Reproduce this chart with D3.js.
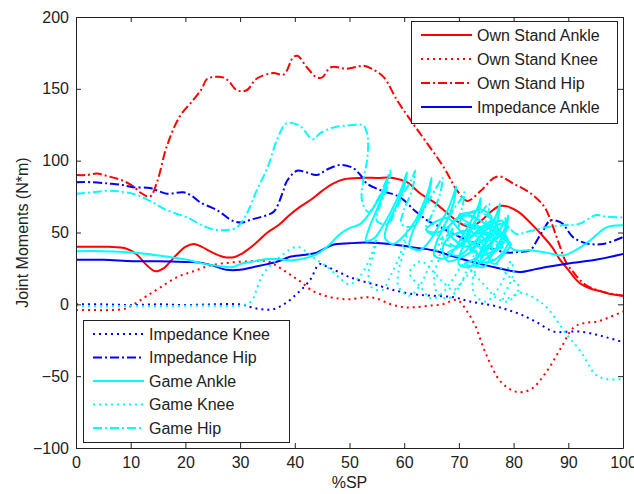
<!DOCTYPE html>
<html>
<head>
<meta charset="utf-8">
<script src="https://cdn.jsdelivr.net/npm/d3@7/dist/d3.min.js"></script>
<style>
  html, body { margin: 0; padding: 0; background: #fff; }
  svg { display: block; }
  text { font-family: "Liberation Sans", Arial, sans-serif; fill: #222; }
</style>
</head>
<body>
<svg id="chart" width="634" height="494"></svg>
<script>
// Joint moment curves over the stance phase (%SP), in N*m.
const xTicks = [0, 10, 20, 30, 40, 50, 60, 70, 80, 90, 100];
const yTicks = [-100, -50, 0, 50, 100, 150, 200];
const xLabel = "%SP";
const yLabel = "Joint Moments (N*m)";

const ownStandAnkle = [[0,40],[3,40],[6,40],[9,39],[11,35],[13,27],[14.5,23],[16,25],[18,33],[20,40],[21.5,42],[23,40],[25,36],[27,33],[29,33],[31,37],[33,43],[35,50],[37,55],[39,62],[41,68],[43,73],[45,79],[47,84],[49,87],[52,88],[55,88],[58,88],[60.5,85],[63,77],[65.5,71],[68,63],[70,57],[72,54],[74,58],[76,65],[77.5,68.5],[79,68],[81,64],[83,57],[85,49],[87,40],[88.5,31],[90,24],[92,15],[94,11],[96,9],[98,7],[100,6]];

const ownStandKnee = [[0,-4],[3,-4],[6,-4],[9,-3],[11,1],[13,6],[15.5,12],[18.5,19],[21.5,23],[24.5,27],[28,29],[32,30],[35,30],[37,26],[39,21],[41,16],[43,10],[45.5,6],[48,4],[50,3.5],[53,5],[55,4],[57.6,0],[60,-2],[62,-2],[64.5,-1],[67,0],[69.7,3],[71.5,-5],[73,-15],[75,-35],[77.7,-54],[80.6,-61],[83.2,-59],[86,-47],[88.7,-30],[91,-16],[93,-13],[95.3,-12],[97.5,-9],[100,-5]];

const ownStandHip = [[0,90],[2,90],[3.8,91],[6,89],[8.6,86],[10.5,82],[11.7,78],[13.5,75],[14.8,85],[16.6,110],[19,131],[21.4,142],[23,150],[24,157],[26.9,158],[28,155],[29.4,149],[31.2,149],[33,157],[36,161],[38,160],[39.7,172],[40.5,173],[42.2,165],[44,158],[45,158],[46.6,165],[49.5,164],[52.6,166],[54.5,163],[56.3,158],[58.7,142],[61.2,128],[64.2,112],[67.3,95],[69.7,79],[71.5,72],[74,79],[76.4,88],[77.5,89],[80,84],[83.2,77],[85.6,68],[87,56],[88.5,40],[89.5,30],[91,22],[93,14],[96,9],[100,6]];

const impedanceAnkle = [[0,31],[5,31],[10.4,30],[15,30],[20,29.5],[22.7,29],[25,27],[27.6,24],[30,24],[32.5,26],[35,28],[37,30],[39,33],[42,34.5],[44,36],[45.5,39],[47,41.5],[50,42.5],[53,43],[57.4,42],[61,40],[65.3,37.6],[68.4,34],[71,31],[74,28],[77.5,25],[81,22.5],[84,24.5],[86,26],[90,28.5],[95,31],[100,35]];

const impedanceKnee = [[0,0],[5,0],[10,-0.5],[15,0],[20,-0.5],[25,0],[30,0],[32,-2],[34,-3.5],[36,-3.5],[38,0],[40.3,7],[42.8,17],[44.5,28],[46,26],[48.3,22],[50,19],[52,16.5],[55.8,12.5],[58,10],[61.8,7],[65,6],[69,5],[72,2],[76.4,-1],[79,-4],[81.3,-7],[84,-12],[87.4,-19],[90,-19],[92.3,-19],[95,-21],[97,-23],[99.6,-26],[100,-27]];

const impedanceHip = [[0,85],[3,85],[6.2,84],[8.5,83],[10.4,81.5],[13.5,81],[15,79],[16.6,77],[19.6,78],[21,76],[22.7,71],[25.8,65.5],[28.7,58],[30.5,57],[32,59],[33.6,60.5],[36,64],[36.7,67.5],[37.8,78],[38.6,86],[40.4,93],[42,92],[44,90],[46,94],[48.3,97],[50.6,95],[52,90],[53.2,84],[56,79],[59.2,74.6],[62,65],[64.2,58.5],[66.5,54],[69,49],[72,44],[75,40],[78.8,36],[81,36.5],[83,37.6],[84.5,46],[85.4,51.5],[86.7,58.5],[88,58],[89,56],[90.9,46.6],[93.4,42.4],[96.3,42],[99.5,46],[100,47]];

// Game trials loop back and forth in %SP through the middle of stance.
const gameAnkle = [[0,37],[5,37],[10.4,36],[15,34],[20.3,31],[23,28.5],[26.3,26.5],[28.7,26],[30,28],[32,29.5],[35,31.5],[37,31.5],[39.7,30.6],[42.8,33],[44.5,36],[45.9,40],[48.3,49],[50,53],[52,56],
  [53,60],[54.5,68],[56,78],[57,88],[56.5,80],[55,66],[53.5,52],[53,44],[54.5,46],[56,54],[57.5,64],[59,76],[60,86],[60.5,92],[60,82],[58.5,68],[57,56],[56.5,46],[58,42],[60,48],[62,58],[63.5,70],[64.5,80],[65,88],[64.5,76],[63,62],[61.5,50],[61,40],[63,38],[65,46],[66.5,56],[68,66],[69,76],[69.5,82],[69,70],[67.5,56],[66,44],[65.5,34],[67.5,32],[69.5,40],[71,50],[72.5,60],[73.5,68],[74,74],[73.5,62],[72,50],[70.5,38],[70,28],[72,26],[73.5,34],[75,44],[76,54],[77,64],[77.5,70],[77,58],[75.5,46],[74,36],[73,28],[74.5,26],[76,34],[77.5,44],[78.5,54],[79,62],[78.5,50],[77,40],[75.5,32],[76.5,28],[78,34],[79.5,42],[78,46],[76,52],[74,58],[72,62],[70,60],[68,54],[66,50],[64,52],[66,58],[68,60],[70,52],[72,44],[74,40],[76,42],[74.5,50],[73,56],[71.5,48],[72.5,38],[74.5,34],[76.5,38],[78,40],
  [76,46],[74,52],[72,56],[70,62],[72,64],[74,66],[76,60],[74,52],[72,46],[70,40],[68,36],[70,34],[72,40],[74,48],[76,56],[78,58],[77,48],[75,40],[73,32],[71,28],[73,27],[75,32],[77,38],[78.5,46],[77,52],[75,56],[73,60],[71,62],[69,58],[68,50],[69.5,44],[71,40],[73,44],[75,50],[76.5,46],[75,38],[74,30],[76,30],[78,36],[79,44],[78,50],[76,48],[74,44],[72,36],[70,32],[68,30],[67,38],[68,46],[70,50],[72,52],[74,54],[76,52],[78,48],[80,38],
  [83,37.6],[86,36],[89,34],[91.5,38],[94,44.5],[97,53.6],[100,55]];

const gameKnee = [[0,-1],[5,-1.5],[10,-1],[15,-1.5],[20,-1],[25,-1],[30,-1],[32,2],[33,10],[34,20],[35,25],[37,32],[39,38],[40.5,40],[42,37],[44,31],[46,26],[48,19],
  [50,14],[52,20],[53.5,30],[54.5,40],[55,48],[54.5,36],[53.5,22],[54,12],[56,10],[57.5,20],[59,32],[60,44],[60.5,52],[60,38],[59,24],[59,12],[61,6],[63,14],[64.5,26],[66,38],[67,48],[66.5,34],[65.5,20],[66,8],[68,4],[70,12],[71.5,24],[73,36],[74,46],[73.5,30],[72.5,16],[73,6],[75,2],[77,10],[78.5,20],[79.5,30],[80,22],[79,12],[78,4],[80,6],[81,12],
  [79,20],[77,28],[75,34],[73,26],[71,18],[69,10],[67,16],[65,24],[63,30],[61,22],[63,12],[65,4],[67,8],[69,18],[71,28],[73,20],[75,12],[77,4],[79,2],[81,8],
  [83,6],[86,-2],[89.7,-21],[92.3,-33],[95,-49],[97,-52],[100,-52]];

const gameHip = [[0,77],[3,78],[6.2,79],[10.4,77],[13.5,72],[16.6,65.5],[20.3,60.5],[23.9,53.6],[26.9,51.5],[29.4,53.6],[31.2,63],[33,79],[35,95],[36.7,114],[38.5,126],[41,124],[42.8,116],[43.5,115],[44.6,119],[47,123],[50,124.6],[52.5,124.6],[53.2,119],[53.4,112],[53.2,100],[52.5,86],[52.3,72],
  [53.5,64],[55,72],[56.5,84],[57.5,93],[57,82],[55.5,68],[55,58],[57,56],[58.5,66],[60,78],[61.5,88],[62,93],[61.5,80],[60,66],[59.5,56],[61.5,54],[63,62],[64.5,72],[66,82],[67,88],[66.5,76],[65,62],[64,52],[66,48],[67.5,56],[69,66],[70.5,74],[71,78],[70.5,66],[69,54],[68,44],[70,40],[71.5,48],[73,58],[74.5,66],[75.5,70],[75,58],[73.5,46],[72.5,36],[74.5,34],[76,42],[77.5,52],[78.5,60],[78,48],[76.5,38],[75,44],[73,52],[71,56],[73,48],[75,40],[77,46],[79,54],
  [77,58],[75,56],[73,50],[71,44],[69,50],[67,44],[69,40],[71,44],[73,50],[75,56],[77,60],[76,50],[74,42],[72,38],[74,36],[76,40],[78,44],[77,54],[75,62],[73,64],[71,62],[70,54],[72,48],[74,50],[76,54],[78,56],[79,54],[80.5,49],
  [83,51],[86,53.6],[89,55],[92,56],[95,62],[97,61],[100,60.5]];

const DOT = "2,4";
const DASHDOT = "9,3,2,3";

const series = [
  { name: "Own Stand Ankle", data: ownStandAnkle, color: "#ff0000", dash: null },
  { name: "Own Stand Knee",  data: ownStandKnee,  color: "#ff0000", dash: DOT },
  { name: "Own Stand Hip",   data: ownStandHip,   color: "#ff0000", dash: DASHDOT },
  { name: "Impedance Ankle", data: impedanceAnkle, color: "#0000ff", dash: null },
  { name: "Impedance Knee",  data: impedanceKnee,  color: "#0000ff", dash: DOT },
  { name: "Impedance Hip",   data: impedanceHip,   color: "#0000ff", dash: DASHDOT },
  { name: "Game Ankle",      data: gameAnkle,      color: "#00ffff", dash: null },
  { name: "Game Knee",       data: gameKnee,       color: "#00ffff", dash: DOT },
  { name: "Game Hip",        data: gameHip,        color: "#00ffff", dash: DASHDOT }
];

const svg = d3.select("#chart");
const plotLeft = 76, plotRight = 623, plotTop = 17, plotBottom = 448;

const x = d3.scaleLinear().domain([0, 100]).range([plotLeft, plotRight]);
const y = d3.scaleLinear().domain([-100, 200]).range([plotBottom, plotTop]);

svg.append("defs").append("clipPath").attr("id", "plotClip")
  .append("rect").attr("x", plotLeft).attr("y", plotTop)
  .attr("width", plotRight - plotLeft).attr("height", plotBottom - plotTop);

const line = d3.line()
  .x(d => x(d[0])).y(d => y(d[1]))
  .curve(d3.curveCatmullRom.alpha(0.5));

const plot = svg.append("g").attr("clip-path", "url(#plotClip)");
series.forEach(s => {
  plot.append("path")
    .attr("d", line(s.data))
    .attr("fill", "none")
    .attr("stroke", s.color)
    .attr("stroke-width", 2)
    .attr("stroke-linejoin", "round")
    .attr("stroke-dasharray", s.dash);
});

// Axes with inward ticks on all four sides
const fmt = d3.format("d");
function styleAxis(g) {
  g.selectAll("path.domain").attr("stroke", "#222").attr("stroke-width", 1);
  g.selectAll(".tick line").attr("stroke", "#222");
  g.selectAll("text").attr("font-size", 16).attr("fill", "#222")
    .attr("font-family", "'Liberation Sans', Arial, sans-serif");
}
svg.append("g").attr("transform", `translate(0,${plotBottom})`)
  .call(d3.axisBottom(x).tickValues(xTicks).tickFormat(fmt).tickSizeInner(-5).tickSizeOuter(0).tickPadding(9))
  .call(styleAxis);
svg.append("g").attr("transform", `translate(0,${plotTop})`)
  .call(d3.axisTop(x).tickValues(xTicks).tickFormat("").tickSizeInner(-5).tickSizeOuter(0))
  .call(styleAxis);
svg.append("g").attr("transform", `translate(${plotLeft},0)`)
  .call(d3.axisLeft(y).tickValues(yTicks).tickFormat(fmt).tickSizeInner(-5).tickSizeOuter(0).tickPadding(7))
  .call(styleAxis);
svg.append("g").attr("transform", `translate(${plotRight},0)`)
  .call(d3.axisRight(y).tickValues(yTicks).tickFormat("").tickSizeInner(-5).tickSizeOuter(0))
  .call(styleAxis);

svg.append("text").attr("x", (plotLeft + plotRight) / 2).attr("y", 488)
  .attr("text-anchor", "middle").attr("font-size", 16).text(xLabel);
svg.append("text")
  .attr("transform", `translate(28,${(plotTop + plotBottom) / 2}) rotate(-90)`)
  .attr("text-anchor", "middle").attr("font-size", 16).text(yLabel);

// Legends
function legend(items, bx, by, bw, bh, firstY, step) {
  const g = svg.append("g");
  g.append("rect").attr("x", bx + 0.5).attr("y", by + 0.5).attr("width", bw).attr("height", bh)
    .attr("fill", "#fff").attr("stroke", "#222").attr("stroke-width", 1);
  items.forEach((s, i) => {
    const cy = firstY + i * step;
    g.append("line").attr("x1", bx + 10).attr("x2", bx + 61).attr("y1", cy).attr("y2", cy)
      .attr("stroke", s.color).attr("stroke-width", 2).attr("stroke-dasharray", s.dash);
    g.append("text").attr("x", bx + 66).attr("y", cy).attr("dy", "0.36em")
      .attr("font-size", 16).text(s.name);
  });
}
legend(series.slice(0, 4), 411, 21, 206, 102, 35, 24);
legend(series.slice(4), 83, 320, 206, 122, 334, 23.5);
</script>
</body>
</html>
